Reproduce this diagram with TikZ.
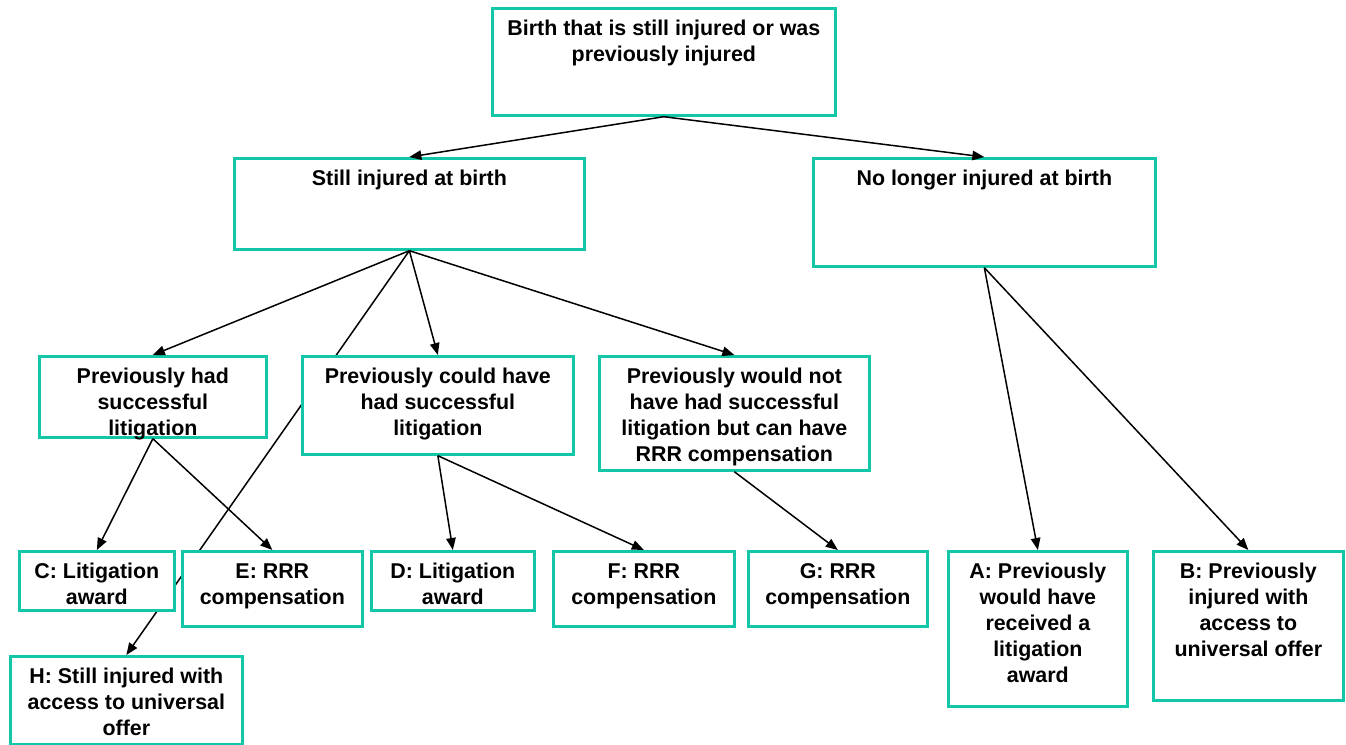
\documentclass[tikz,border=0pt]{standalone}
\usepackage{fontspec}
\setmainfont{Liberation Sans}
\usetikzlibrary{arrows.meta}
\definecolor{tealbox}{RGB}{18,198,168}
\pgfdeclarelayer{background}
\pgfsetlayers{background,main}
\newcommand{\boxtext}[3]{\parbox[c][#2pt][t]{#1pt}{\centering\rule{0pt}{27pt}#3\par}}
\tikzset{
  box/.style={draw=tealbox, line width=2.7pt, fill=white, inner sep=0pt, anchor=north west,
    font=\fontsize{21.4}{26}\selectfont\bfseries},
  conn/.style={draw=black, line width=1.5pt, -{Triangle[length=12pt,width=9.5pt]}}
}
\begin{document}
\begin{tikzpicture}[x=1pt,y=-1pt]
\useasboundingbox (0,0) rectangle (1346,744);
% boxes
\node[box] (top) at (491,7) {\boxtext{343}{107}{Birth that is still injured or was\\previously injured}};
\node[box] (still) at (233,157) {\boxtext{350}{91}{Still injured at birth}};
\node[box] (nolonger) at (812,157) {\boxtext{342}{108}{No longer injured at birth}};
\node[box] (had) at (38,355) {\boxtext{227}{81}{Previously had\\successful\\litigation}};
\node[box] (could) at (301,355) {\boxtext{271}{98}{Previously could have\\had successful\\litigation}};
\node[box] (would) at (598,355) {\boxtext{270}{114}{Previously would not\\have had successful\\litigation but can have\\RRR compensation}};
\node[box] (C) at (18,550) {\boxtext{155}{59}{C: Litigation\\award}};
\node[box] (E) at (181,550) {\boxtext{180}{75}{E: RRR\\compensation}};
\node[box] (D) at (370,550) {\boxtext{163}{59}{D: Litigation\\award}};
\node[box] (F) at (552,550) {\boxtext{181}{75}{F: RRR\\compensation}};
\node[box] (G) at (747,550) {\boxtext{179}{75}{G: RRR\\compensation}};
\node[box] (A) at (947,550) {\boxtext{179}{155}{A: Previously\\would have\\received a\\litigation\\award}};
\node[box] (B) at (1152,550) {\boxtext{190}{149}{B: Previously\\injured with\\access to\\universal offer}};
\node[box] (H) at (9,655) {\boxtext{232}{88}{H: Still injured with\\access to universal\\offer}};
% connector hidden behind boxes
\begin{pgfonlayer}{background}
\draw[conn] (still.south) -- (H.north);
\end{pgfonlayer}
% connectors
\draw[conn] (top.south) -- (still.north);
\draw[conn] (top.south) -- (nolonger.north);
\draw[conn] (still.south) -- (had.north);
\draw[conn] (still.south) -- (could.north);
\draw[conn] (still.south) -- (would.north);
\draw[conn] (had.south) -- (C.north);
\draw[conn] (had.south) -- (E.north);
\draw[conn] (could.south) -- (D.north);
\draw[conn] (could.south) -- (F.north);
\draw[conn] (would.south) -- (G.north);
\draw[conn] (nolonger.south) -- (A.north);
\draw[conn] (nolonger.south) -- (B.north);
\end{tikzpicture}
\end{document}
